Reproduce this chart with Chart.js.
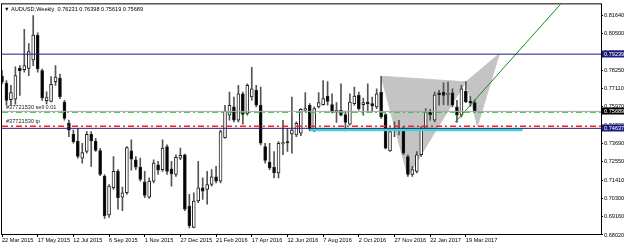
<!DOCTYPE html>
<html>
<head>
<meta charset="utf-8">
<script src="https://cdn.jsdelivr.net/npm/chart.js@4.4.1/dist/chart.umd.min.js"></script>
<style>
  html, body { margin: 0; padding: 0; background: #fff; }
  canvas { display: block; }
</style>
</head>
<body>
<canvas id="audusdChart" width="625" height="246"></canvas>
<script>
// AUDUSD weekly candles, bar 0 = week of 22 Mar 2015
var opens = [0.7787, 0.7744, 0.7642, 0.7644, 0.7836, 0.7828, 0.7836, 0.7889, 0.8041, 0.7822,
  0.7635, 0.7631, 0.7754, 0.7775, 0.7627, 0.7494, 0.7426, 0.7385, 0.7279, 0.7320,
  0.7426, 0.7385, 0.7326, 0.7167, 0.6927, 0.7095, 0.7197, 0.7037, 0.7064, 0.7324,
  0.7269, 0.7224, 0.7132, 0.7037, 0.7136, 0.7238, 0.7207, 0.7351, 0.7213, 0.7177,
  0.7279, 0.7300, 0.6982, 0.6849, 0.7013, 0.7095, 0.7085, 0.7115, 0.7162, 0.7136,
  0.7406, 0.7545, 0.7597, 0.7515, 0.7678, 0.7556, 0.7658, 0.7699, 0.7607, 0.7350,
  0.7255, 0.7222, 0.7187, 0.7367, 0.7381, 0.7429, 0.7423, 0.7433, 0.7576, 0.7607,
  0.7453, 0.7597, 0.7611, 0.7664, 0.7611, 0.7566, 0.7576, 0.7549, 0.7490, 0.7617,
  0.7668, 0.7611, 0.7627, 0.7617, 0.7597, 0.7689, 0.7549, 0.7324, 0.7459, 0.7455,
  0.7463, 0.7289, 0.7177, 0.7197, 0.7300, 0.7463, 0.7566, 0.7515, 0.7684, 0.7689,
  0.7674, 0.7684, 0.7597, 0.7545, 0.7693, 0.7631, 0.76231];
var highs = [0.7822, 0.7760, 0.7730, 0.7846, 0.7853, 0.8078, 0.7990, 0.8164, 0.8057, 0.7832,
  0.7690, 0.7785, 0.7853, 0.7801, 0.7637, 0.7515, 0.7453, 0.7463, 0.7371, 0.7443,
  0.7443, 0.7402, 0.7340, 0.7177, 0.7115, 0.7289, 0.7207, 0.7099, 0.7351, 0.7392,
  0.7289, 0.7279, 0.7197, 0.7156, 0.7269, 0.7259, 0.7392, 0.7361, 0.7259, 0.7300,
  0.7341, 0.7304, 0.7054, 0.7064, 0.7259, 0.7156, 0.7197, 0.7207, 0.7228, 0.7453,
  0.7607, 0.7689, 0.7658, 0.7730, 0.7689, 0.7740, 0.7842, 0.7730, 0.7720, 0.7371,
  0.7371, 0.7320, 0.7381, 0.7514, 0.7463, 0.7658, 0.7504, 0.7586, 0.7685, 0.7617,
  0.7597, 0.7685, 0.7760, 0.7754, 0.7678, 0.7623, 0.7740, 0.7570, 0.7678, 0.7719,
  0.7689, 0.7652, 0.7740, 0.7658, 0.7709, 0.7787, 0.7556, 0.7467, 0.7504, 0.7514,
  0.7474, 0.7300, 0.7228, 0.7320, 0.7474, 0.7586, 0.7582, 0.7689, 0.7699, 0.7746,
  0.7750, 0.7709, 0.7637, 0.7730, 0.7754, 0.7660, 0.76398];
var lows = [0.7740, 0.7607, 0.7607, 0.7613, 0.7668, 0.7812, 0.7791, 0.7853, 0.7812, 0.7637,
  0.7615, 0.7627, 0.7730, 0.7648, 0.7515, 0.7412, 0.7371, 0.7279, 0.7248, 0.7310,
  0.7228, 0.7320, 0.7170, 0.6905, 0.6911, 0.7085, 0.6962, 0.6952, 0.7054, 0.7204,
  0.7207, 0.7136, 0.7033, 0.7029, 0.7125, 0.7177, 0.7197, 0.7177, 0.7105, 0.7166,
  0.7269, 0.6952, 0.6845, 0.6845, 0.7003, 0.7023, 0.6993, 0.7105, 0.7125, 0.7125,
  0.7402, 0.7515, 0.7504, 0.7504, 0.7490, 0.7546, 0.7638, 0.7597, 0.7361, 0.7248,
  0.7207, 0.7156, 0.7156, 0.7300, 0.7320, 0.7310, 0.7412, 0.7418, 0.7566, 0.7447,
  0.7443, 0.7590, 0.7607, 0.7607, 0.7560, 0.7500, 0.7541, 0.7447, 0.7484, 0.7607,
  0.7576, 0.7545, 0.7566, 0.7566, 0.7586, 0.7525, 0.7336, 0.7320, 0.7412, 0.7423,
  0.7300, 0.7166, 0.7166, 0.7187, 0.7289, 0.7453, 0.7514, 0.7504, 0.7607, 0.7611,
  0.7607, 0.7597, 0.7500, 0.7535, 0.7623, 0.7600, 0.75619];
var closes = [0.7750, 0.7637, 0.7685, 0.7791, 0.7822, 0.7853, 0.7940, 0.8043, 0.7832, 0.7652,
  0.7655, 0.7736, 0.7781, 0.7658, 0.7525, 0.7453, 0.7381, 0.7289, 0.7314, 0.7426,
  0.7385, 0.7326, 0.7177, 0.6921, 0.7105, 0.7197, 0.7033, 0.7064, 0.7345, 0.7273,
  0.7222, 0.7146, 0.7048, 0.7136, 0.7248, 0.7204, 0.7341, 0.7197, 0.7181, 0.7283,
  0.7296, 0.6962, 0.6859, 0.7013, 0.7095, 0.7074, 0.7115, 0.7162, 0.7136, 0.7443,
  0.7570, 0.7607, 0.7515, 0.7678, 0.7550, 0.7730, 0.7709, 0.7607, 0.7371, 0.7265,
  0.7218, 0.7187, 0.7371, 0.7375, 0.7375, 0.7453, 0.7494, 0.7582, 0.7586, 0.7459,
  0.7586, 0.7623, 0.7648, 0.7631, 0.7566, 0.7576, 0.7545, 0.7500, 0.7627, 0.7664,
  0.7586, 0.7623, 0.7615, 0.7603, 0.7678, 0.7535, 0.7340, 0.7443, 0.7451, 0.7449,
  0.7310, 0.7177, 0.7207, 0.7300, 0.7463, 0.7566, 0.7549, 0.7672, 0.7672, 0.7668,
  0.7678, 0.7607, 0.7545, 0.7709, 0.7627, 0.7621, 0.75689];

// time axis labels (every 8 weeks)
var dateLabelBars = [0, 8, 16, 24, 32, 40, 48, 56, 64, 72, 80, 88, 96, 104];
var dateLabels = ['22 Mar 2015', '17 May 2015', '12 Jul 2015', '6 Sep 2015', '1 Nov 2015',
  '27 Dec 2015', '21 Feb 2016', '17 Apr 2016', '12 Jun 2016', '7 Aug 2016', '2 Oct 2016',
  '27 Nov 2016', '22 Jan 2017', '19 Mar 2017'];

// price axis
var priceTicks = [0.81640, 0.80505, 0.79370, 0.78235, 0.77100, 0.75965, 0.74830,
  0.73695, 0.72560, 0.71425, 0.70290, 0.69155, 0.68020];
var priceTickLabels = ['0.81640', '0.80500', '0.79360', '0.78250', '0.77110', '0.75970', '0.74830',
  '0.73690', '0.72550', '0.71410', '0.70300', '0.69160', '0.68020'];

// horizontal levels
var upperLevel = 0.79239;
var bidLevel = 0.75689;
var sellLevel = 0.7563;
var tpLevel = 0.7477;
var lowerLevel = 0.74637;
var zoneLevel = 0.7455;
var zoneBars = [69, 116.7];

// pattern triangles and trend line (bar, price)
var triangle1Bars = [85, 91, 104];
var triangle1Prices = [0.7787, 0.7166, 0.7752];
var triangle2Bars = [104, 106.6, 111.5];
var triangle2Prices = [0.7752, 0.7478, 0.7926];
var trendBars = [101.6, 125.2];
var trendPrices = [0.7502, 0.8233];

var xMin = 0, xMax = 134.3;
var fontFamily = 'Liberation Sans, Arial, sans-serif';

function pts(xs, ys) {
  return xs.map(function(x, i) { return {x: x, y: ys[i]}; });
}
function hline(level, color, width, dash) {
  return {
    type: 'line', data: pts([xMin, xMax], [level, level]),
    borderColor: color, borderWidth: width, borderDash: dash || [],
    pointRadius: 0, fill: false, order: 0
  };
}
function triangle(xs, ys) {
  var p = pts(xs, ys);
  p.push(p[0]);
  return {
    type: 'line', data: p, fill: 'shape', backgroundColor: '#c4c4c4',
    borderColor: '#c4c4c4', borderWidth: 1, pointRadius: 0, order: 10
  };
}

var bodyData = opens.map(function(o, i) { return {x: i, y: [o, closes[i]]}; });
var wickData = lows.map(function(l, i) { return {x: i, y: [l, highs[i]]}; });
var bodyColors = opens.map(function(o, i) { return closes[i] >= o ? '#ffffff' : '#000000'; });

var overlayPlugin = {
  id: 'overlay',
  afterDraw: function(chart) {
    var ctx = chart.ctx, area = chart.chartArea, y = chart.scales.y;
    ctx.save();
    ctx.strokeStyle = '#000';
    ctx.lineWidth = 1;
    ctx.strokeRect(area.left - 0.5, area.top - 0.5, area.right - area.left + 1, area.bottom - area.top + 1);

    // price boxes on the axis
    ctx.font = '5.6px ' + fontFamily;
    ctx.textBaseline = 'middle';
    ctx.textAlign = 'left';
    [[upperLevel, '#1c1c80'], [bidLevel, '#000000'], [lowerLevel, '#1c1c80']].forEach(function(b) {
      var py = Math.round(y.getPixelForValue(b[0]));
      ctx.fillStyle = b[1];
      ctx.fillRect(area.right + 1, py - 3.5, 22, 7);
      ctx.fillStyle = '#fff';
      ctx.fillText(b[0].toFixed(5), area.right + 3, py + 0.5);
    });

    // order labels
    ctx.fillStyle = '#222';
    ctx.textBaseline = 'bottom';
    ctx.fillText('#37721530 sell 0.01', area.left + 4, y.getPixelForValue(sellLevel) - 2);
    ctx.fillText('#37721530 tp', area.left + 4, y.getPixelForValue(tpLevel) - 2);

    // title
    ctx.textBaseline = 'middle';
    ctx.fillStyle = '#000';
    ctx.fillText('\u25BC', area.left + 2, area.top + 5);
    ctx.fillText('AUDUSD,Weekly  0.76231 0.76398 0.75619 0.75689', area.left + 9, area.top + 5);
    ctx.restore();
  }
};

new Chart(document.getElementById('audusdChart').getContext('2d'), {
  type: 'bar',
  data: {
    datasets: [
      {type: 'bar', data: bodyData, backgroundColor: bodyColors, borderColor: '#222', borderWidth: 1,
        borderSkipped: false, barThickness: 3, minBarLength: 1, grouped: false, order: 1},
      {type: 'bar', data: wickData, backgroundColor: '#555', borderWidth: 0,
        barThickness: 1, grouped: false, order: 2},
      triangle(triangle1Bars, triangle1Prices),
      triangle(triangle2Bars, triangle2Prices),
      hline(upperLevel, '#1c1c80', 1),
      hline(bidLevel, '#a4a4b4', 1),
      hline(sellLevel, '#33c033', 1, [6, 3, 2, 3]),
      hline(tpLevel, '#ff2020', 1.5, [6, 3, 2, 3]),
      hline(lowerLevel, '#1c1c80', 1),
      {type: 'line', data: pts(zoneBars, [zoneLevel, zoneLevel]), borderColor: '#3cd8d0',
        borderWidth: 3, pointRadius: 0, fill: false, order: 0},
      {type: 'line', data: pts(trendBars, trendPrices), borderColor: '#1a8a1a',
        borderWidth: 1, pointRadius: 0, fill: false, order: 0}
    ]
  },
  options: {
    responsive: false,
    animation: false,
    devicePixelRatio: 1,
    layout: {padding: {left: 2, top: 2, right: 0, bottom: 0}},
    plugins: {legend: {display: false}, tooltip: {enabled: false}},
    scales: {
      x: {
        type: 'linear', min: xMin, max: xMax, offset: false,
        grid: {drawOnChartArea: false, tickLength: 3, color: '#000', offset: false},
        border: {display: true, color: '#000'},
        afterBuildTicks: function(scale) {
          scale.ticks = dateLabelBars.map(function(b) { return {value: b}; });
        },
        afterFit: function(scale) { scale.height = 12; },
        ticks: {
          autoSkip: false, maxRotation: 0, align: 'start', padding: 0, color: '#000',
          font: {family: fontFamily, size: 5.6},
          callback: function(value, index) { return dateLabels[index]; }
        }
      },
      y: {
        position: 'right', min: 0.6808, max: 0.8233,
        grid: {drawOnChartArea: false, tickLength: 2, color: '#000'},
        border: {display: true, color: '#000'},
        afterBuildTicks: function(scale) {
          scale.ticks = priceTicks.map(function(v) { return {value: v}; });
        },
        afterFit: function(scale) { scale.width = 24; },
        ticks: {
          autoSkip: false, padding: 1, color: '#000',
          font: {family: fontFamily, size: 5.6},
          callback: function(value, index) { return priceTickLabels[index]; }
        }
      }
    }
  },
  plugins: [overlayPlugin]
});
</script>
</body>
</html>
